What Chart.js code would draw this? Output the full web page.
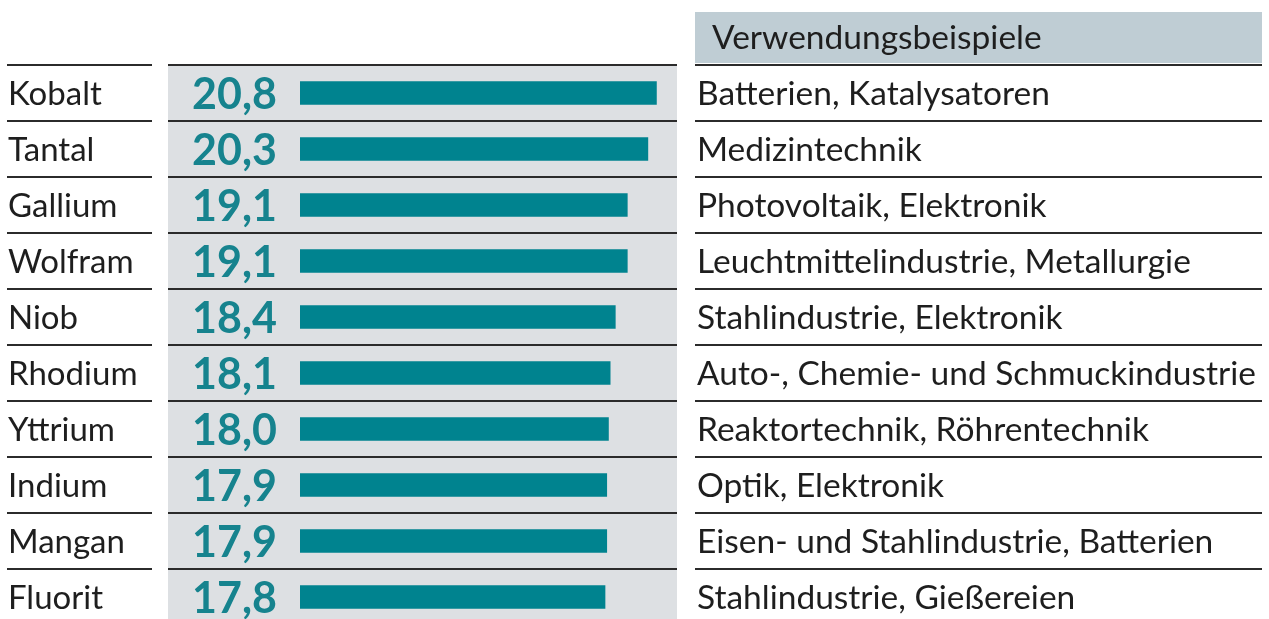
<!DOCTYPE html>
<html>
<head>
<meta charset="utf-8">
<script src="https://cdn.jsdelivr.net/npm/chart.js@4.4.1/dist/chart.umd.min.js"></script>
<style>
  html, body { margin: 0; padding: 0; background: #fff; overflow: hidden; }
  #wrap { position: relative; width: 1269px; height: 625px; }
</style>
</head>
<body>
<div id="wrap"><canvas id="rohstoffe"></canvas></div>
<script>
const elements = ["Kobalt", "Tantal", "Gallium", "Wolfram", "Niob", "Rhodium", "Yttrium", "Indium", "Mangan", "Fluorit"];
const values = [20.8, 20.3, 19.1, 19.1, 18.4, 18.1, 18.0, 17.9, 17.9, 17.8];
const uses = [
  "Batterien, Katalysatoren",
  "Medizintechnik",
  "Photovoltaik, Elektronik",
  "Leuchtmittelindustrie, Metallurgie",
  "Stahlindustrie, Elektronik",
  "Auto-, Chemie- und Schmuckindustrie",
  "Reaktortechnik, Röhrentechnik",
  "Optik, Elektronik",
  "Eisen- und Stahlindustrie, Batterien",
  "Stahlindustrie, Gießereien"
];
const headerText = "Verwendungsbeispiele";

const FONT = "Lato, 'Noto Sans', sans-serif";
const TEAL = "#00838f";

// grey panel, row lines and the text columns around the bars
const tablePlugin = {
  id: "table",
  beforeDatasetsDraw(chart) {
    const { ctx, scales: { y } } = chart;
    const band = (y.bottom - y.top) / elements.length;
    ctx.save();
    ctx.fillStyle = "#dde0e3";
    ctx.fillRect(168, y.top, 509, y.bottom - y.top);
    // header box
    ctx.fillStyle = "#bfcdd4";
    ctx.fillRect(695, 12, 567, 51);
    ctx.strokeStyle = "#2b2b2b";
    ctx.lineWidth = 2;
    for (let i = 0; i < elements.length; i++) {
      const top = y.getPixelForValue(i) - band / 2;
      ctx.beginPath();
      ctx.moveTo(7, top); ctx.lineTo(152, top);
      ctx.moveTo(168, top); ctx.lineTo(677, top);
      ctx.moveTo(695, top); ctx.lineTo(1262, top);
      ctx.stroke();
    }
    ctx.restore();
  },
  afterDatasetsDraw(chart) {
    const { ctx, scales: { y } } = chart;
    ctx.save();
    ctx.textBaseline = "alphabetic";
    ctx.fillStyle = "#1e1e1e";
    ctx.font = "33.5px " + FONT;
    ctx.textAlign = "left";
    ctx.fillText(headerText, 712, 49);
    elements.forEach((name, i) => {
      const cy = y.getPixelForValue(i);
      ctx.fillStyle = "#1e1e1e";
      ctx.font = "33px " + FONT;
      ctx.textAlign = "left";
      ctx.fillText(name, 8, cy + 12);
      ctx.font = "33.5px " + FONT;
      ctx.fillText(uses[i], 697, cy + 12);
      ctx.fillStyle = "#16838e";
      ctx.font = "bold 43px " + FONT;
      ctx.textAlign = "right";
      ctx.fillText(values[i].toFixed(1).replace(".", ","), 277, cy + 16);
    });
    ctx.restore();
  }
};

new Chart(document.getElementById("rohstoffe").getContext("2d"), {
  type: "bar",
  data: {
    labels: elements,
    datasets: [{
      data: values,
      backgroundColor: TEAL,
      barThickness: 23,
      borderSkipped: false
    }]
  },
  options: {
    indexAxis: "y",
    responsive: true,
    maintainAspectRatio: false,
    animation: false,
    layout: { padding: { left: 300, right: 592, top: 65, bottom: 0 } },
    plugins: { legend: { display: false }, tooltip: { enabled: false } },
    scales: {
      x: { display: false, min: 0, max: 22 },
      y: { display: false }
    }
  },
  plugins: [tablePlugin]
});
</script>
</body>
</html>
